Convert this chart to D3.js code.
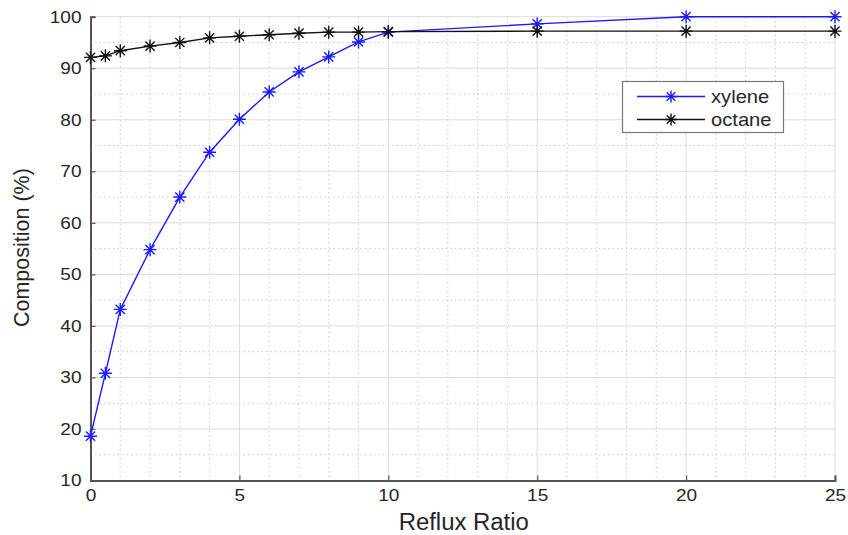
<!DOCTYPE html>
<html><head><meta charset="utf-8">
<script src="https://cdn.jsdelivr.net/npm/d3@7"></script>
<style>body{margin:0;background:#fff}svg{display:block}text{font-family:"Liberation Sans",Arial,sans-serif}</style>
</head><body><svg id="c" width="848" height="535"></svg>
<script>
const reflux = [0, 0.5, 1, 2, 3, 4, 5, 6, 7, 8, 9, 10, 15, 20, 25];
const xylene = [18.6, 30.8, 43.2, 54.8, 65.0, 73.7, 80.1, 85.4, 89.3, 92.2, 95.1, 97.0, 98.6, 100, 100];
const octane = [92.1, 92.4, 93.4, 94.3, 95.0, 95.9, 96.2, 96.5, 96.8, 97.0, 97.0, 97.1, 97.2, 97.2, 97.2];
const seriesNames = ["xylene", "octane"];
const seriesColors = ["#1a1aff", "#111111"];
const xTicks = [0, 5, 10, 15, 20, 25];
const yTicks = [10, 20, 30, 40, 50, 60, 70, 80, 90, 100];

const svg = d3.select("#c");
const L = 90.5, R = 835, T = 16.7, B = 480.5;
const x = d3.scaleLinear().domain([0, 25]).range([L, R]);
const y = d3.scaleLinear().domain([10, 100]).range([B, T]);
const SX = 1.12;
function stretch(sel, sx) {
  sel.each(function () {
    const t = d3.select(this);
    const ax = +(t.attr("x") || 0);
    t.attr("transform", `translate(${ax},0) scale(${sx},1) translate(${-ax},0)`);
  });
}

const g = svg.append("g");
const xMinor = d3.range(0, 26, 1).filter(v => v % 5 !== 0);
const yMinor = d3.range(15, 100, 10);
g.selectAll(".xm").data(xMinor).enter().append("line")
  .attr("x1", d => x(d)).attr("x2", d => x(d)).attr("y1", T).attr("y2", B)
  .attr("stroke", "#c8c8c8").attr("stroke-width", 1).attr("stroke-dasharray", "1.5,3");
g.selectAll(".ym").data(yMinor).enter().append("line")
  .attr("y1", d => y(d)).attr("y2", d => y(d)).attr("x1", L).attr("x2", R)
  .attr("stroke", "#c8c8c8").attr("stroke-width", 1).attr("stroke-dasharray", "1.5,3");
g.selectAll(".xg").data(xTicks.slice(1)).enter().append("line")
  .attr("x1", d => x(d)).attr("x2", d => x(d)).attr("y1", T).attr("y2", B)
  .attr("stroke", "#dcdcdc").attr("stroke-width", 1);
g.selectAll(".yg").data(yTicks.slice(1)).enter().append("line")
  .attr("y1", d => y(d)).attr("y2", d => y(d)).attr("x1", L).attr("x2", R)
  .attr("stroke", "#dcdcdc").attr("stroke-width", 1);

const xAxis = d3.axisBottom(x).tickValues(xTicks).tickSize(-5).tickPadding(8).tickFormat(d3.format("d"));
const yAxis = d3.axisLeft(y).tickValues(yTicks).tickSize(-5).tickPadding(9).tickFormat(d3.format("d"));
const xa = svg.append("g").attr("transform", `translate(0,${B})`).call(xAxis);
const ya = svg.append("g").attr("transform", `translate(${L},0)`).call(yAxis);
[xa, ya].forEach(a => {
  a.select(".domain").attr("stroke", "#555").attr("stroke-width", 2);
  a.selectAll(".tick line").attr("stroke", "#555").attr("stroke-width", 1.2);
  a.selectAll(".tick text").attr("fill", "#262626").attr("font-size", 17)
    .attr("font-family", "Liberation Sans, Arial, sans-serif");
});
xa.selectAll(".tick text").attr("dy", "0.71em");
stretch(xa.selectAll(".tick text"), SX);
stretch(ya.selectAll(".tick text"), SX);

const xl = svg.append("text").attr("x", (L + R) / 2 + 1).attr("y", 530).attr("text-anchor", "middle")
  .attr("fill", "#262626").attr("font-size", 23).text("Reflux Ratio");
stretch(xl, 1.04);
svg.append("text").attr("transform", `translate(29,${(T + B) / 2 - 1}) rotate(-90)`).attr("text-anchor", "middle")
  .attr("fill", "#262626").attr("font-size", 21.5).text("Composition (%)");

function star(sel, cx, cy, r, color) {
  const d = r * Math.SQRT1_2;
  const p = `M${cx - r},${cy}L${cx + r},${cy}M${cx},${cy - r}L${cx},${cy + r}M${cx - d},${cy - d}L${cx + d},${cy + d}M${cx - d},${cy + d}L${cx + d},${cy - d}`;
  sel.append("path").attr("d", p).attr("stroke", color).attr("stroke-width", 1.4).attr("fill", "none");
}

const series = [xylene, octane];
const line = d3.line().x((d, i) => x(reflux[i])).y(d => y(d));
series.forEach((s, k) => {
  svg.append("path").datum(s).attr("d", line).attr("fill", "none")
    .attr("stroke", seriesColors[k]).attr("stroke-width", 1.4);
  const mg = svg.append("g");
  s.forEach((v, i) => star(mg, x(reflux[i]), y(v), 6.5, seriesColors[k]));
});

const lg = svg.append("g");
lg.append("rect").attr("x", 622.5).attr("y", 81.5).attr("width", 161).attr("height", 51)
  .attr("fill", "#fff").attr("stroke", "#777").attr("stroke-width", 1.2);
seriesNames.forEach((n, k) => {
  const yy = 96.5 + k * 23;
  lg.append("line").attr("x1", 637).attr("x2", 705).attr("y1", yy).attr("y2", yy)
    .attr("stroke", seriesColors[k]).attr("stroke-width", 1.4);
  star(lg, 671, yy, 6, seriesColors[k]);
  const t = lg.append("text").attr("x", 711).attr("y", yy).attr("dy", "0.35em").attr("font-size", 18)
    .attr("fill", "#262626").text(n);
  stretch(t, SX);
});
</script></body></html>
